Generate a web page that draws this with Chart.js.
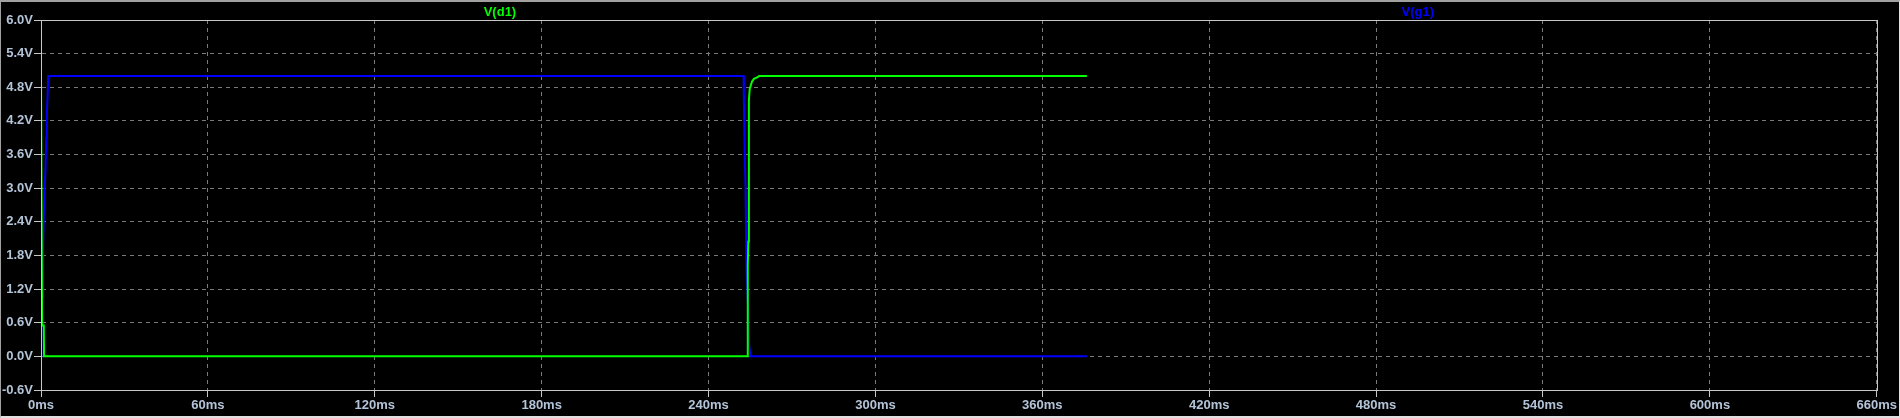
<!DOCTYPE html>
<html>
<head>
<meta charset="utf-8">
<script src="https://cdn.jsdelivr.net/npm/chart.js@4.4.1/dist/chart.umd.min.js"></script>
<style>
  html, body { margin: 0; padding: 0; background: #000; }
  #wrap { position: relative; width: 1900px; height: 418px; box-sizing: border-box;
          border-top: 2px solid #a0a0a0; border-left: 1px solid #a0a0a0;
          border-right: 1px solid #e0e0e0; border-bottom: 2px solid #e0e0e0; background: #000; }
</style>
</head>
<body>
<div id="wrap"><canvas id="myChart"></canvas></div>
<script>
"use strict"
// Werte (Zeit in ms, Spannung in V)
const dLabel = "V(d1)";
const dTimes = [0, 0.3, 0.4, 1.0, 1.1, 253.9, 254.1, 254.3, 254.5, 254.8, 255.6, 256.3, 257.6, 258.2, 376];
const dVolts = [5.0, 5.0, 0.55, 0.55, 0.0, 0.0, 1.6, 2.05, 4.57, 4.77, 4.9, 4.95, 4.98, 5.0, 5.0];

const gLabel = "V(g1)";
const gTimes = [0, 0.1, 0.36, 0.7, 1.0, 1.3, 1.6, 1.9, 2.1, 2.4, 2.6, 252.6, 252.7, 253.0, 253.3, 253.6, 254.2, 254.6, 255.0, 376];
const gVolts = [0.0, 0.36, 1.07, 1.85, 2.5, 3.0, 3.3, 3.9, 4.3, 4.7, 5.0, 5.0, 4.55, 3.65, 3.03, 1.6, 0.9, 0.2, 0.0, 0.0];

const xTicks = [0, 60, 120, 180, 240, 300, 360, 420, 480, 540, 600, 660];
const yTicks = [-0.6, 0.0, 0.6, 1.2, 1.8, 2.4, 3.0, 3.6, 4.2, 4.8, 5.4, 6.0];

function toPoints(xs, ys) {
    let pts = [];
    for (let i = 0; i < xs.length; i++) {
        pts.push({x: xs[i], y: ys[i]});
    }
    return pts;
}

const gridColor = "#7a7a7a";
const frameColor = "#c8c8c8";
const labelColor = "#b4c4d8";
const labelFont = {family: "'Liberation Sans', Arial, sans-serif", size: 13, weight: "bold"};

// Rahmen um die Zeichenfläche und die Kurvennamen oben
const framePlugin = {
    id: "frame",
    afterDraw(chart) {
        const ctx = chart.ctx;
        const a = chart.chartArea;
        ctx.save();
        ctx.strokeStyle = frameColor;
        ctx.lineWidth = 1;
        ctx.strokeRect(Math.round(a.left) + 0.5, Math.round(a.top) + 0.5,
                       Math.round(a.right - a.left), Math.round(a.bottom - a.top));
        ctx.font = "bold 13px 'Liberation Sans', Arial, sans-serif";
        ctx.textAlign = "center";
        ctx.textBaseline = "middle";
        const n = chart.data.datasets.length;
        chart.data.datasets.forEach(function(ds, i) {
            ctx.fillStyle = ds.borderColor;
            ctx.fillText(ds.label, a.left + (a.right - a.left) * (2 * i + 1) / (2 * n), 10);
        });
        ctx.restore();
    }
};

const config = {
    type: "line",
    data: {
        datasets: [
            {label: dLabel, data: toPoints(dTimes, dVolts), borderColor: "#00ff00", borderWidth: 2},
            {label: gLabel, data: toPoints(gTimes, gVolts), borderColor: "#0000ff", borderWidth: 2}
        ]
    },
    options: {
        responsive: false,
        animation: false,
        parsing: false,
        elements: {point: {radius: 0}, line: {tension: 0, borderJoinStyle: "miter"}},
        layout: {padding: {top: 18, right: 20, left: 0, bottom: 0}},
        plugins: {legend: {display: false}, tooltip: {enabled: false}},
        scales: {
            x: {
                type: "linear", min: 0, max: 660,
                afterBuildTicks: function(scale) { scale.ticks = xTicks.map(v => ({value: v})); },
                afterFit: function(scale) { scale.height = 26; },
                ticks: {color: labelColor, font: labelFont, padding: 1, maxRotation: 0, autoSkip: false,
                        callback: v => v + "ms"},
                grid: {color: gridColor, tickColor: frameColor, tickLength: 7, tickBorderDash: []},
                border: {color: frameColor, dash: [4, 4]}
            },
            y: {
                min: -0.6, max: 6.0,
                afterBuildTicks: function(scale) { scale.ticks = yTicks.map(v => ({value: v})); },
                afterFit: function(scale) { scale.width = 40; },
                ticks: {color: labelColor, font: labelFont, padding: 1, autoSkip: false,
                        callback: v => v.toFixed(1) + "V"},
                grid: {color: gridColor, tickColor: frameColor, tickLength: 7, tickBorderDash: []},
                border: {color: frameColor, dash: [4, 4]}
            }
        }
    },
    plugins: [framePlugin]
};

const cv = document.getElementById("myChart");
cv.width = 1897;
cv.height = 414;
new Chart(cv, config);
</script>
</body>
</html>
